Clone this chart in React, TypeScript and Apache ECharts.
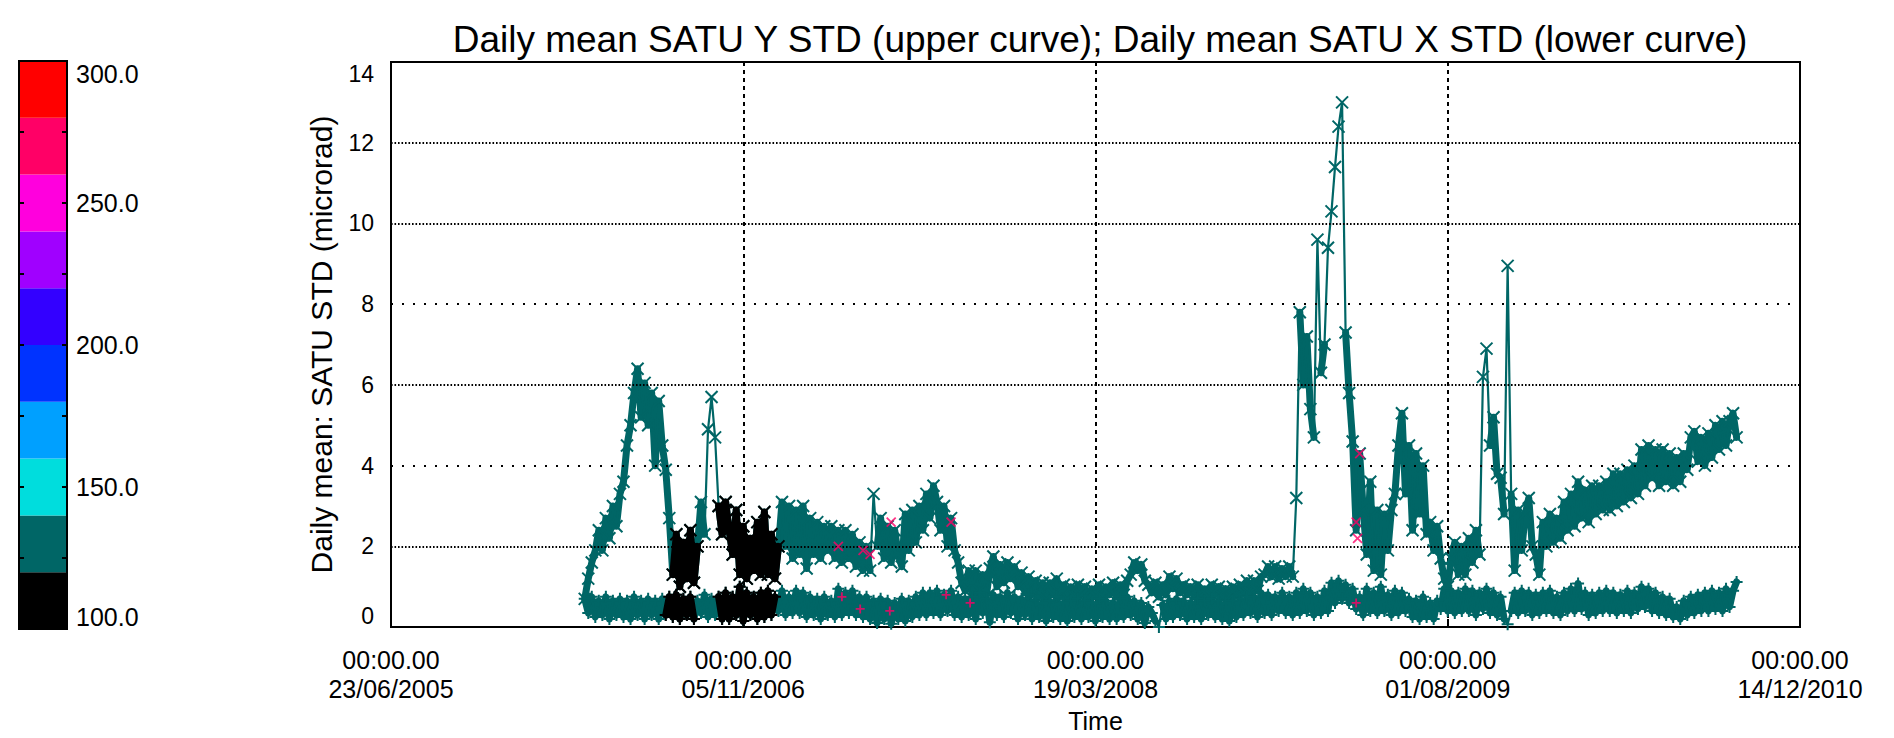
import React, { useEffect, useRef } from "react";
import * as echarts from "echarts";

// ---------- data ----------
const ORIGIN_UTC = Date.UTC(2005, 5, 23); // day 0 of the time axis = 23/06/2005
const X_MIN_DAY = 0;
const X_MAX_DAY = 2000;
const X_STEP_DAY = 500;
const Y_MIN = 0;
const Y_MAX = 14;
const Y_STEP = 2;

// samples every STEP_DAYS days, starting at START_DAY (days after 23/06/2005)
const START_DAY = 275;
const STEP_DAYS = 5;

// Daily mean SATU Y STD (upper curve)
const Y_STD = [
  0.7, 1.2, 1.6, 1.9, 2.4, 1.9, 2.7, 2.2, 3.0, 2.5,
  3.3, 3.6, 4.5, 5.0, 5.8, 6.4, 5.2, 6.05, 5.0, 5.8,
  4.0, 5.6, 4.5, 3.9, 2.7, 1.3, 2.3, 1.0, 2.1, 1.2,
  2.4, 1.1, 2.0, 3.1, 2.3, 4.9, 5.7, 4.7, 3.0, 2.3,
  3.1, 2.4, 1.8, 2.9, 1.3, 2.5, 1.2, 2.2, 1.4, 2.6,
  1.3, 2.85, 1.3, 2.3, 1.2, 2.0, 3.1, 2.0, 3.0, 1.7,
  2.9, 1.8, 3.0, 1.45, 2.7, 1.8, 2.6, 1.7, 2.5, 1.9,
  2.5, 1.7, 2.4, 1.6, 2.4, 1.7, 2.3, 1.5, 2.1, 1.4,
  2.0, 1.4, 3.3, 2.0, 2.7, 1.7, 2.5, 1.6, 2.4, 1.8,
  1.5, 2.8, 1.9, 2.9, 2.1, 3.0, 2.4, 3.3, 2.7, 3.5,
  3.1, 2.4, 3.0, 2.0, 2.7, 1.9, 1.6, 1.1, 0.9, 1.4,
  0.8, 1.4, 0.9, 1.3, 0.75, 1.45, 1.75, 1.0, 1.55, 1.1,
  1.6, 1.2, 1.5, 1.0, 1.35, 0.85, 1.25, 0.8, 1.15, 0.75,
  1.1, 0.7, 1.1, 0.8, 1.2, 0.75, 1.05, 0.7, 1.0, 0.75,
  1.05, 0.8, 1.0, 0.65, 0.95, 0.75, 1.05, 0.7, 1.0, 0.8,
  1.1, 0.75, 1.05, 0.8, 1.15, 1.3, 1.6, 1.4, 1.55, 1.15,
  1.05, 0.85, 1.1, 0.75, 1.05, 0.8, 1.25, 0.95, 1.2, 0.85,
  1.05, 0.8, 1.0, 0.75, 1.05, 0.7, 0.95, 0.75, 1.05, 0.8,
  1.0, 0.75, 0.95, 0.7, 1.0, 0.8, 1.05, 0.85, 1.15, 0.85,
  1.15, 0.9, 1.25, 1.3, 1.5, 1.25, 1.5, 1.2, 1.45, 1.25,
  1.5, 1.25, 3.2, 7.8, 6.0, 7.2, 5.4, 4.7, 9.6, 6.3,
  7.0, 9.4, 10.3, 11.4, 12.4, 13.0, 7.3, 5.8, 4.6, 2.4,
  4.3, 2.9, 1.8, 3.6, 1.4, 2.9, 1.3, 2.8, 1.9, 2.9,
  3.3, 4.5, 5.3, 3.3, 4.5, 2.4, 4.3, 2.8, 4.0, 2.3,
  2.6, 1.9, 2.5, 1.7, 1.2, 1.0, 1.7, 2.1, 1.3, 2.0,
  1.3, 2.2, 1.6, 2.4, 1.8, 6.2, 6.9, 4.5, 5.2, 3.8,
  3.7, 2.8, 8.95, 3.3, 1.4, 2.9, 1.9, 2.8, 3.2, 2.0,
  1.8, 1.3, 2.6, 2.0, 2.8, 2.1, 2.7, 2.2, 3.1, 2.4,
  3.3, 2.5, 3.6, 2.7, 3.4, 2.6, 3.5, 2.8, 3.5, 2.9,
  3.6, 2.9, 3.8, 3.0, 3.8, 3.1, 3.9, 3.2, 4.0, 3.3,
  4.4, 3.5, 4.5, 3.7, 4.4, 3.5, 4.4, 3.6, 4.3, 3.5,
  4.2, 3.6, 4.3, 3.9, 4.7, 4.85, 4.1, 4.7, 4.0, 4.8,
  4.2, 5.0, 4.4, 5.1, 4.5, 5.1, 5.3, 4.7,
];

// Daily mean SATU X STD (lower curve)
const X_STD = [
  0.7, 0.35, 0.75, 0.25, 0.65, 0.3, 0.75, 0.2, 0.65, 0.3,
  0.7, 0.25, 0.65, 0.2, 0.75, 0.3, 0.65, 0.2, 0.7, 0.3,
  0.65, 0.2, 0.7, 0.3, 0.75, 0.25, 0.8, 0.2, 0.7, 0.3,
  0.75, 0.2, 0.65, 0.35, 0.8, 0.25, 0.7, 0.3, 0.75, 0.2,
  0.85, 0.2, 0.75, 0.3, 1.0, 0.15, 0.85, 0.3, 0.75, 0.2,
  0.85, 0.25, 0.9, 0.3, 0.75, 0.4, 0.9, 0.3, 0.75, 0.35,
  0.9, 0.35, 0.85, 0.25, 0.75, 0.3, 0.7, 0.2, 0.75, 0.3,
  0.65, 0.25, 0.95, 0.3, 0.85, 0.35, 0.9, 0.3, 0.75, 0.25,
  0.75, 0.2, 0.65, 0.1, 0.7, 0.2, 0.65, 0.08, 0.6, 0.2,
  0.7, 0.15, 0.65, 0.25, 0.75, 0.3, 0.85, 0.3, 0.85, 0.35,
  0.9, 0.3, 0.8, 0.4, 0.9, 0.3, 0.75, 0.25, 0.7, 0.3,
  0.75, 0.2, 0.85, 0.35, 0.7, 0.12, 0.8, 0.3, 0.75, 0.25,
  0.85, 0.35, 0.75, 0.2, 0.7, 0.3, 0.8, 0.2, 0.65, 0.25,
  0.6, 0.15, 0.65, 0.25, 0.75, 0.2, 0.6, 0.15, 0.65, 0.25,
  0.7, 0.2, 0.65, 0.25, 0.6, 0.15, 0.7, 0.25, 0.65, 0.2,
  0.6, 0.2, 0.7, 0.25, 0.75, 0.3, 0.65, 0.2, 0.6, 0.1,
  0.5, 0.35, 0.15, 0.0, 0.55, 0.2, 0.65, 0.25, 0.7, 0.3,
  0.65, 0.2, 0.6, 0.25, 0.7, 0.2, 0.65, 0.3, 0.7, 0.25,
  0.65, 0.2, 0.6, 0.15, 0.65, 0.25, 0.7, 0.3, 0.75, 0.35,
  0.75, 0.25, 0.85, 0.35, 0.8, 0.3, 0.75, 0.4, 0.85, 0.35,
  0.75, 0.3, 0.85, 0.35, 0.95, 0.4, 0.85, 0.3, 0.75, 0.35,
  0.9, 0.4, 1.1, 0.6, 1.15, 0.7, 1.05, 0.6, 0.95, 0.45,
  0.75, 0.3, 0.95, 0.4, 0.85, 0.35, 1.0, 0.4, 0.8, 0.3,
  0.9, 0.35, 0.85, 0.4, 0.7, 0.25, 0.65, 0.2, 0.75, 0.25,
  0.6, 0.2, 0.65, 0.45, 0.95, 0.4, 0.9, 0.35, 0.85, 0.4,
  0.95, 0.4, 0.9, 0.3, 0.85, 0.45, 0.95, 0.35, 0.85, 0.3,
  0.75, 0.2, 0.07, 0.4, 0.85, 0.35, 0.9, 0.4, 0.85, 0.3,
  0.8, 0.35, 0.85, 0.4, 0.9, 0.35, 0.75, 0.3, 0.85, 0.4,
  0.95, 0.4, 1.08, 0.45, 0.85, 0.3, 0.8, 0.35, 0.85, 0.4,
  0.9, 0.4, 0.85, 0.35, 0.8, 0.4, 0.9, 0.35, 0.85, 0.45,
  1.0, 0.5, 0.95, 0.4, 0.85, 0.35, 0.75, 0.3, 0.7, 0.25,
  0.5, 0.2, 0.65, 0.3, 0.75, 0.35, 0.8, 0.4, 0.85, 0.4,
  0.9, 0.45, 0.85, 0.4, 0.95, 0.5, 0.9, 1.12,
];

// day ranges whose samples fall in the 100-120 colour band (black)
const BLACK_UPPER = [[400, 435], [465, 550]];
const BLACK_LOWER = [[390, 430], [465, 545]];
// isolated one-day excursions (drawn only as thin lines)
const SPIKES_UPPER = [[447, 463], [683, 687], [1283, 1287], [1313, 1317], [1328, 1352], [1547, 1558], [1582, 1588]];
const SPIKES_LOWER = [[1088, 1092], [1583, 1587]];
// isolated samples in the 260-280 colour band (pink)
const PINK_UPPER = [[635, 2.0], [670, 1.9], [680, 1.8], [710, 2.6], [795, 2.6], [1370, 2.6], [1372, 2.2], [1375, 4.3]];
const PINK_LOWER = [[640, 0.75], [666, 0.45], [708, 0.4], [788, 0.8], [822, 0.6], [1370, 0.6]];

// colour bar
const CB_LEVELS = [100, 120, 140, 160, 180, 200, 220, 240, 260, 280, 300];
const CB_COLORS = ["#000000", "#006666", "#00DDDD", "#00A0FF", "#0033FF", "#3300FF", "#A000FF", "#FF00DD", "#FF0066", "#FF0000"];
const CB_TICK = 25;
const CB_LABEL_STEP = 50;

// grid line levels
const GRID_DENSE = [2, 6, 10, 12];
const GRID_SPARSE = [4, 8];

const TITLE = "Daily mean SATU Y STD (upper curve); Daily mean SATU X STD (lower curve)";
const Y_NAME = "Daily mean: SATU STD (microrad)";
const X_NAME = "Time";

// ---------- styles ----------
const FONT = "'Liberation Sans', Arial, sans-serif";
const TEAL = "#006666";
const PINK = "#FF0066";
const X_SYM = "path://M0,0L10,10M10,0L0,10";
const PLUS_SYM = "path://M5,0L5,10M0,5L10,5";

const pad = (n: number) => String(n).padStart(2, "0");
const fmtDate = (day: number) => {
  const d = new Date(ORIGIN_UTC + day * 86400000);
  return `00:00.00\n${pad(d.getUTCDate())}/${pad(d.getUTCMonth() + 1)}/${d.getUTCFullYear()}`;
};

export default function App() {
  const ref = useRef<HTMLDivElement>(null);

  useEffect(() => {
    document.body.style.margin = "0";
    const chart = echarts.init(ref.current!, null, { renderer: "svg" });

    const days = Y_STD.map((_, i) => START_DAY + i * STEP_DAYS);
    const inRanges = (d: number, r: number[][]) => r.some(([a, b]) => d >= a && d <= b);
    const pairs = (vals: number[]) => vals.map((v, i) => [days[i], v]);
    const keep = (vals: number[], test: (d: number) => boolean) =>
      vals.map((v, i) => [days[i], test(days[i]) ? v : "-"]);

    const markerStyle = (c: string, w: number) => ({ color: c, borderColor: c, borderWidth: w });

    const cbSeries = CB_COLORS.map((c, i) => ({
      type: "bar",
      xAxisIndex: 1,
      yAxisIndex: 1,
      stack: "cb",
      barWidth: "100%",
      silent: true,
      clip: true,
      data: [i === 0 ? CB_LEVELS[1] : CB_LEVELS[i + 1] - CB_LEVELS[i]],
      itemStyle: { color: c },
    }));

    const curve = (data: any[], sym: string, color: string, z: number) => ({
      type: "line",
      xAxisIndex: 0,
      yAxisIndex: 0,
      data,
      symbol: sym,
      symbolSize: 12,
      silent: true,
      z,
      lineStyle: { color, width: 2.2 },
      itemStyle: markerStyle(color, 2.0),
    });
    // dense daily scatter drawn as a broad ribbon under the marked curve
    const ribbon = (data: any[], color: string, z: number) => ({
      type: "line",
      xAxisIndex: 0,
      yAxisIndex: 0,
      data,
      symbol: "none",
      silent: true,
      z,
      lineStyle: { color, width: 7, join: "round", cap: "round" },
    });

    const option: any = {
      animation: false,
      backgroundColor: "#ffffff",
      textStyle: { fontFamily: FONT },
      title: {
        text: TITLE,
        left: 1095,
        top: 16,
        textAlign: "center",
        textStyle: { fontFamily: FONT, fontSize: 37, fontWeight: "normal", color: "#000" },
      },
      grid: [
        { left: 391, top: 62, width: 1409, height: 566, show: true, borderColor: "#000", borderWidth: 2, backgroundColor: "transparent" },
        { left: 19, top: 61, width: 48, height: 568, show: true, borderColor: "#000", borderWidth: 2, backgroundColor: "transparent", z: 10 },
      ],
      xAxis: [
        {
          type: "value",
          gridIndex: 0,
          min: X_MIN_DAY,
          max: X_MAX_DAY,
          interval: X_STEP_DAY,
          name: X_NAME,
          nameLocation: "middle",
          nameGap: 80,
          nameTextStyle: { fontFamily: FONT, fontSize: 25, color: "#000" },
          axisLine: { show: true, lineStyle: { color: "#000", width: 2 } },
          axisTick: { show: true, inside: true, length: 8, lineStyle: { color: "#000", width: 2 } },
          axisLabel: {
            formatter: fmtDate,
            fontFamily: FONT,
            fontSize: 25,
            lineHeight: 29,
            color: "#000",
            margin: 18,
            showMinLabel: true,
            showMaxLabel: true,
          },
          splitLine: { show: true, lineStyle: { color: "#000", width: 2, type: [4, 4] } },
        },
        { type: "category", gridIndex: 1, data: ["cb"], show: false },
      ],
      yAxis: [
        {
          type: "value",
          gridIndex: 0,
          min: Y_MIN,
          max: Y_MAX,
          interval: Y_STEP,
          name: Y_NAME,
          nameLocation: "middle",
          nameRotate: 90,
          nameGap: 55,
          nameTextStyle: { fontFamily: FONT, fontSize: 30, color: "#000" },
          axisLine: { show: true, lineStyle: { color: "#000", width: 2 } },
          axisTick: { show: false },
          axisLabel: {
            fontFamily: FONT,
            fontSize: 23,
            color: "#000",
            margin: 17,
            verticalAlignMinLabel: "bottom",
            verticalAlignMaxLabel: "top",
          },
          splitLine: { show: false },
        },
        {
          type: "value",
          gridIndex: 1,
          min: CB_LEVELS[0],
          max: CB_LEVELS[CB_LEVELS.length - 1],
          interval: CB_TICK,
          position: "left",
          z: 10,
          axisLine: { show: false },
          axisTick: { show: true, inside: true, length: 5, lineStyle: { color: "#000", width: 2 } },
          axisLabel: { show: false },
          splitLine: { show: false },
        },
        {
          type: "value",
          gridIndex: 1,
          min: CB_LEVELS[0],
          max: CB_LEVELS[CB_LEVELS.length - 1],
          interval: CB_TICK,
          position: "right",
          z: 10,
          axisLine: { show: false },
          axisTick: { show: true, inside: true, length: 5, lineStyle: { color: "#000", width: 2 } },
          axisLabel: {
            show: true,
            formatter: (v: number) => (v % CB_LABEL_STEP === 0 ? v.toFixed(1) : ""),
            fontFamily: FONT,
            fontSize: 25,
            color: "#000",
            margin: 9,
            verticalAlignMinLabel: "bottom",
            verticalAlignMaxLabel: "top",
          },
          splitLine: { show: false },
        },
      ],
      series: [
        ...cbSeries,
        {
          type: "line",
          xAxisIndex: 0,
          yAxisIndex: 0,
          data: [],
          silent: true,
          z: 1,
          markLine: {
            silent: true,
            symbol: ["none", "none"],
            label: { show: false },
            emphasis: { disabled: true },
            data: [
              ...GRID_DENSE.map((v) => ({ yAxis: v, lineStyle: { color: "#000", width: 2, type: [1.6, 1.9] } })),
              ...GRID_SPARSE.map((v) => ({ yAxis: v, lineStyle: { color: "#000", width: 2, type: [2, 9] } })),
            ],
          },
        },
        ribbon(keep(Y_STD, (d) => !inRanges(d, SPIKES_UPPER)), TEAL, 2),
        ribbon(keep(X_STD, (d) => !inRanges(d, SPIKES_LOWER)), TEAL, 2),
        curve(pairs(Y_STD), X_SYM, TEAL, 3),
        curve(pairs(X_STD), PLUS_SYM, TEAL, 3),
        ribbon(keep(Y_STD, (d) => inRanges(d, BLACK_UPPER)), "#000", 4),
        ribbon(keep(X_STD, (d) => inRanges(d, BLACK_LOWER)), "#000", 4),
        curve(keep(Y_STD, (d) => inRanges(d, BLACK_UPPER)), X_SYM, "#000", 5),
        curve(keep(X_STD, (d) => inRanges(d, BLACK_LOWER)), PLUS_SYM, "#000", 5),
        {
          type: "scatter",
          xAxisIndex: 0,
          yAxisIndex: 0,
          data: PINK_UPPER,
          symbol: X_SYM,
          symbolSize: 9,
          silent: true,
          z: 6,
          itemStyle: markerStyle(PINK, 1.8),
        },
        {
          type: "scatter",
          xAxisIndex: 0,
          yAxisIndex: 0,
          data: PINK_LOWER,
          symbol: PLUS_SYM,
          symbolSize: 9,
          silent: true,
          z: 6,
          itemStyle: markerStyle(PINK, 1.8),
        },
      ],
    };

    chart.setOption(option);
    return () => chart.dispose();
  }, []);

  return <div ref={ref} style={{ width: 1894, height: 738, background: "#fff" }} />;
}
